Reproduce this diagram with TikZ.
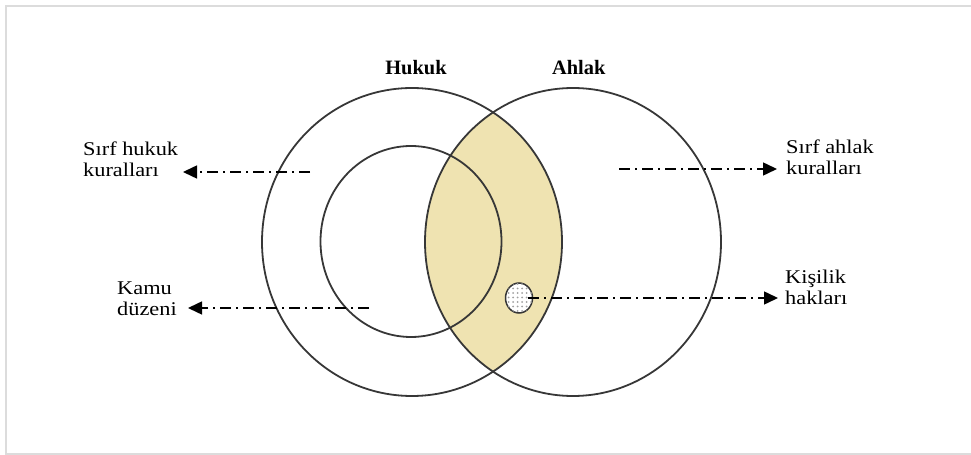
\documentclass[tikz,border=0pt]{standalone}
\usepackage{fontspec}
\setmainfont{Liberation Serif}
\newfontfamily\lblfont[FakeStretch=1.15]{Liberation Serif}
\usetikzlibrary{arrows.meta,shapes.geometric,patterns.meta}
\definecolor{lensfill}{RGB}{239,227,177}
\definecolor{framegray}{RGB}{220,220,220}
\definecolor{ringcol}{RGB}{55,55,55}
\begin{document}
\begin{tikzpicture}[x=1bp,y=-1bp,
  ring/.style={draw=ringcol,line width=1.8bp},
  lbl/.style={font=\lblfont\fontsize{19.5}{21.5}\selectfont, align=left, inner sep=0pt, anchor=base west},
  titlelbl/.style={font=\bfseries\fontsize{20.5}{24}\selectfont, inner sep=0pt, anchor=base},
  pointer/.style={line width=1.5bp, dash pattern=on 11bp off 5bp on 2bp off 5bp, -{Triangle[length=14bp,width=13bp]}}
]
\useasboundingbox (0,0) rectangle (971,455);
\draw[framegray, line width=2bp] (971,6) -- (6,6) -- (6,453.5) -- (971,453.5);
% lens
\begin{scope}
  \clip (412,242) ellipse [x radius=150, y radius=154];
  \fill[lensfill] (573,242) ellipse [x radius=148, y radius=154];
\end{scope}
\draw[ring] (412,242) ellipse [x radius=150, y radius=154];
\draw[ring] (573,242) ellipse [x radius=148, y radius=154];
\draw[ring] (411,241.5) ellipse [x radius=90.5, y radius=95.5];
% small oval
\node[ellipse, draw=ringcol, line width=1.5bp, fill=white, minimum width=27bp, minimum height=30bp, inner sep=0pt,
  postaction={pattern={Dots[distance=4.5bp,radius=1bp]}, pattern color=gray!75}] (oval) at (519,298) {};
% titles
\node[titlelbl] (hukuk) at (416,75) {Hukuk};
\node[titlelbl] (ahlak) at (578.7,75) {Ahlak};
% labels (anchor at baseline of last line)
\node[lbl] (sh) at (83,176.5) {Sırf hukuk\\kuralları};
\node[lbl] (kd) at (117,315.5) {Kamu\\düzeni};
\node[lbl] (sa) at (786,175) {Sırf ahlak\\kuralları};
\node[lbl] (kh) at (785,305) {Kişilik\\hakları};
% arrows
\coordinate (shs) at (310,172);
\coordinate (sht) at (183,172);
\coordinate (kds) at (369,308);
\coordinate (kdt) at (188,308);
\coordinate (sas) at (619,169);
\coordinate (sat) at (777,169);
\coordinate (kht) at (778,298);
\draw[pointer] (shs) -- (sht);
\draw[pointer] (kds) -- (kdt);
\draw[pointer] (sas) -- (sat);
\draw[pointer] ([xshift=-5bp]oval.east) -- (kht);
\end{tikzpicture}
\end{document}
